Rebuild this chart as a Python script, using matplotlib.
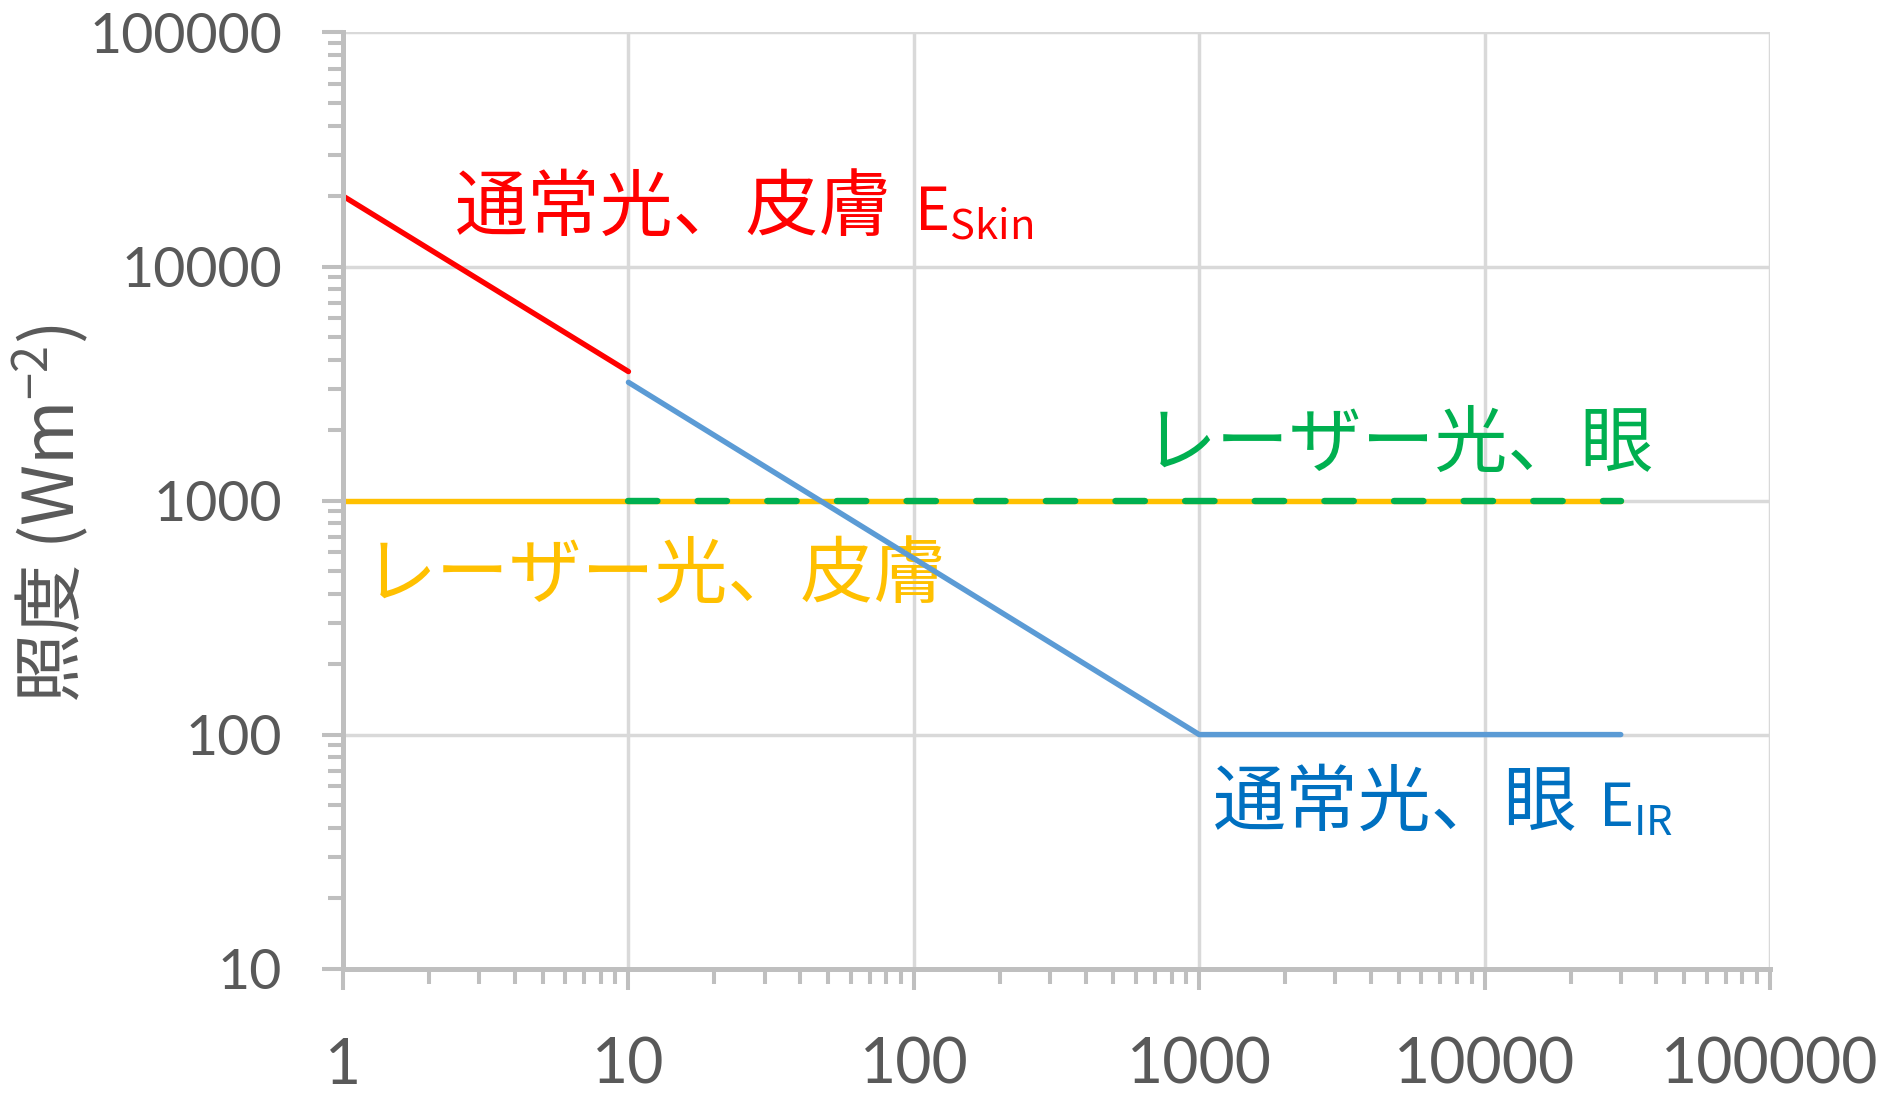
import matplotlib
matplotlib.use("Agg")
import matplotlib.pyplot as plt
from matplotlib.ticker import FixedLocator, FixedFormatter, LogLocator, NullFormatter

# exposure time (s) and irradiance limit (W m^-2) for each curve
t_skin_normal = [1, 10]
e_skin_normal = [20000, 3557]

t_eye_normal = [10, 1000, 30000]
e_eye_normal = [3200, 100, 100]

t_skin_laser = [1, 30000]
e_skin_laser = [1000, 1000]

t_eye_laser = [10, 30000]
e_eye_laser = [1000, 1000]

x_ticks = [1, 10, 100, 1000, 10000, 100000]
x_tick_labels = ["1", "10", "100", "1000", "10000", "100000"]
y_ticks = [10, 100, 1000, 10000, 100000]
y_tick_labels = ["10", "100", "1000", "10000", "100000"]

JP = ["Noto Sans CJK JP", "DejaVu Sans"]
GRAY_TEXT = "#595959"
AXIS_GRAY = "#BFBFBF"
GRID_GRAY = "#D9D9D9"
LABEL_SIZE = 52.5
SYMBOL_SIZE = 43

plt.rcParams["mathtext.fontset"] = "custom"
plt.rcParams["mathtext.rm"] = "Noto Sans CJK JP"
plt.rcParams["mathtext.default"] = "regular"


def add_symbol(fig, ax, text_obj, symbol, color, gap_px):
    # place the quantity symbol right after a Japanese label, on its baseline
    fig.canvas.draw()
    bb = text_obj.get_window_extent()
    x_disp = bb.x1 + gap_px
    _, y_disp = ax.transData.transform(text_obj.get_position())
    x_data, y_data = ax.transData.inverted().transform((x_disp, y_disp))
    ax.text(x_data, y_data, symbol, color=color, fontsize=SYMBOL_SIZE,
            family=JP, ha="left", va="baseline")


def main():
    fig = plt.figure(figsize=(18.89, 10.93), dpi=100)
    ax = fig.add_axes([0.1816, 0.1138, 0.7554, 0.8565])

    ax.set_xscale("log")
    ax.set_yscale("log")
    ax.set_xlim(1, 100000)
    ax.set_ylim(10, 100000)

    # curves
    ax.plot(t_skin_laser, e_skin_laser, color="#FFC000", lw=3.9,
            solid_capstyle="round", zorder=3)
    ax.plot(t_eye_laser, e_eye_laser, color="#00B050", lw=4.6,
            dashes=(4.6, 6.3), dash_capstyle="round", zorder=4)
    ax.plot(t_skin_normal, e_skin_normal, color="#FF0000", lw=3.9,
            solid_capstyle="round", zorder=5)
    ax.plot(t_eye_normal, e_eye_normal, color="#5B9BD5", lw=3.9,
            solid_capstyle="round", solid_joinstyle="round", zorder=5)

    # axes styling
    for side in ["top", "right"]:
        ax.spines[side].set_visible(False)
    for side in ["left", "bottom"]:
        ax.spines[side].set_color(AXIS_GRAY)
        ax.spines[side].set_linewidth(3.6)
        ax.spines[side].set_zorder(6)

    ax.xaxis.set_major_locator(FixedLocator(x_ticks))
    ax.xaxis.set_major_formatter(FixedFormatter(x_tick_labels))
    ax.yaxis.set_major_locator(FixedLocator(y_ticks))
    ax.yaxis.set_major_formatter(FixedFormatter(y_tick_labels))
    ax.xaxis.set_minor_locator(LogLocator(base=10, subs=range(2, 10), numticks=20))
    ax.yaxis.set_minor_locator(LogLocator(base=10, subs=range(2, 10), numticks=20))
    ax.xaxis.set_minor_formatter(NullFormatter())
    ax.yaxis.set_minor_formatter(NullFormatter())

    ax.tick_params(which="major", direction="out", length=15, width=2.9,
                   color=AXIS_GRAY, labelcolor=GRAY_TEXT)
    ax.tick_params(which="minor", direction="out", length=10.5, width=2.9,
                   color=AXIS_GRAY)
    ax.tick_params(axis="x", which="major", pad=34, labelsize=45)
    ax.tick_params(axis="y", which="major", pad=29, labelsize=40)
    for lab in ax.get_xticklabels() + ax.get_yticklabels():
        lab.set_family("Lato")

    ax.grid(True, which="major", color=GRID_GRAY, lw=2.5, zorder=0)
    ax.set_axisbelow(True)

    # curve labels
    t_red = ax.text(2.47, 14300, "通常光、皮膚", color="#FF0000",
                    fontsize=LABEL_SIZE, family=JP, ha="left", va="baseline")
    ax.text(637, 1400, "レーザー光、眼", color="#00B050",
            fontsize=LABEL_SIZE, family=JP, ha="left", va="baseline")
    ax.text(1.18, 386, "レーザー光、皮膚", color="#FFC000",
            fontsize=LABEL_SIZE, family=JP, ha="left", va="baseline")
    t_blue = ax.text(1120, 41, "通常光、眼", color="#0070C0",
                     fontsize=LABEL_SIZE, family=JP, ha="left", va="baseline")
    add_symbol(fig, ax, t_red, "E$_{Skin}$", "#FF0000", 22)
    add_symbol(fig, ax, t_blue, "E$_{IR}$", "#0070C0", 20)

    fig.text(51 / 1889, 1 - 514 / 1093, "照度 (Wm$^{-2}$)", rotation=90,
             color=GRAY_TEXT, fontsize=50, family=JP, ha="center", va="center")

    fig.savefig("out.png", dpi=100, facecolor="white")


if __name__ == "__main__":
    main()
